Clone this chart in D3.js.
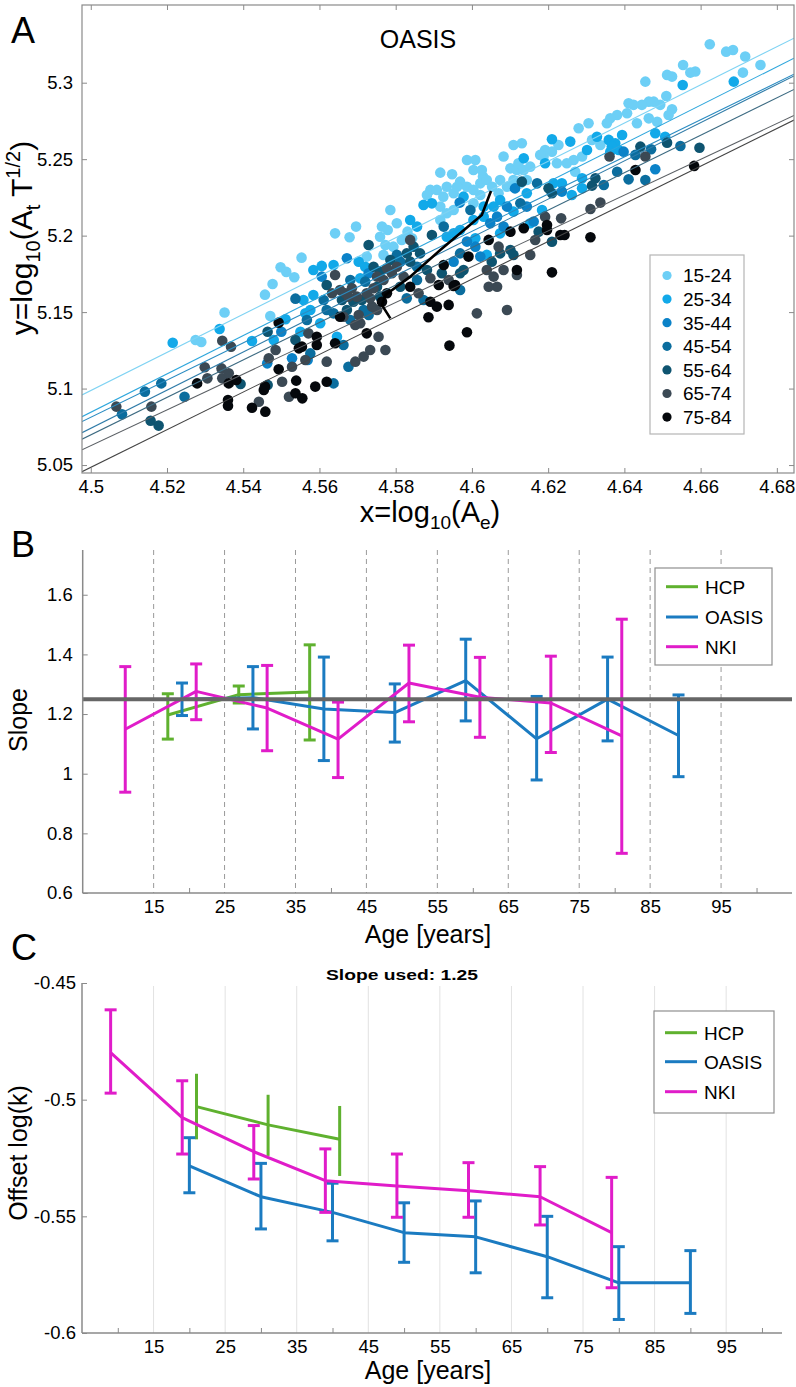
<!DOCTYPE html>
<html><head><meta charset="utf-8">
<script src="https://cdn.jsdelivr.net/npm/d3@7"></script>
<style>
body{margin:0;background:#fff}
svg text{font-family:"Liberation Sans",Arial,Helvetica,sans-serif;fill:#000}
</style>
</head><body>
<svg id="c" width="796" height="1387"></svg>
<script>
// ---------------- DATA ----------------
const ageGroups = ["15-24","25-34","35-44","45-54","55-64","65-74","75-84"];
const groupColors = ["#6dcff6","#12a9e9","#0b82c8","#0b6d9e","#0e5470","#3b4954","#05080c"];
const fitLineColors = ["#7fd3f3","#2ea6dc","#2a8cc2","#2f7ba8","#3d6b82","#5a5f64","#444444"];

const pts_15_24 = [[4.5275,5.1318],[4.5290,5.1305],[4.5351,5.1497],[4.5457,5.1614],[4.5477,5.1684],[4.5498,5.1793],[4.5513,5.1763],[4.5534,5.1728],[4.5553,5.1856],[4.5471,5.1475],
[4.5786,5.2168],[4.5641,5.2015],[4.5679,5.1989],[4.5696,5.2059],[4.5764,5.2059],[4.5759,5.1993],[4.5779,5.2037],[4.5803,5.2081],[4.5816,5.1972],[4.5794,5.1928],[4.5773,5.1939],[4.5768,5.1874],[4.5831,5.2026],[4.5843,5.1983],[4.5724,5.1863],[4.5917,5.2412],[4.5948,5.2401],[4.5987,5.2495],[4.6009,5.2495],[4.6004,5.2429],[4.6029,5.2386],[4.5969,5.2353],[4.5987,5.2320],[4.6022,5.2342],[4.6039,5.2364],[4.5891,5.2299],[4.5908,5.2299],[4.5934,5.2320],[4.5952,5.2277],[4.5917,5.2190],[4.5934,5.2146],[4.5952,5.2168],[4.6004,5.2211],[4.6022,5.2266],[4.6070,5.2277],[4.6083,5.2517],[4.6109,5.2593],[4.6131,5.2604],[4.6101,5.2440],[4.6118,5.2429],[4.6136,5.2429],[4.6109,5.2364],[4.6127,5.2342],[4.6144,5.2364],[4.6092,5.2320],[4.5917,5.2102],
[4.5882,5.2266],[4.5925,5.2255],[4.5961,5.2320],[4.6004,5.2299],[4.6026,5.2429],[4.6053,5.2320],[4.6074,5.2364],[4.6122,5.2473],[4.6153,5.2451],
[4.6624,5.3251],[4.6667,5.3203],[4.6685,5.3214],[4.6717,5.3171],[4.6757,5.3116],[4.6711,5.3066],[4.6554,5.3116],[4.6573,5.3066],[4.6586,5.3073],[4.6512,5.3051],[4.6525,5.3040],[4.6455,5.3007],[4.6510,5.2913],[4.6525,5.2826],[4.6516,5.2789],[4.6494,5.2855],[4.6477,5.2876],[4.6464,5.2876],[4.6446,5.2855],[4.6424,5.2855],[4.6411,5.2865],[4.6407,5.2800],[4.6381,5.2789],[4.6363,5.2767],[4.6354,5.2735],[4.6433,5.2735],[4.6464,5.2767],[4.6486,5.2745],[4.6306,5.2735],[4.6280,5.2702],[4.6315,5.2626],[4.6337,5.2593],[4.6289,5.2517],[4.6267,5.2495],[4.6227,5.2593],[4.6210,5.2549],[4.6192,5.2560],[4.6188,5.2517],[4.6179,5.2528],[4.6223,5.2473],[4.6249,5.2473],[4.6271,5.2418]];
const pts_25_34 = [[4.5215,5.1300],[4.5338,5.1390],[4.5423,5.1311],[4.5480,5.1318],[4.5511,5.1453],[4.5563,5.1492],[4.5550,5.1372],
[4.5606,5.1802],[4.5637,5.1808],[4.5703,5.1830],[4.5720,5.1797],[4.5838,5.2102],[4.5856,5.2059],[4.5895,5.2211],[4.5873,5.2201],[4.5978,5.2255],[4.6031,5.2190],[4.6057,5.2190],[4.6136,5.2506],[4.6144,5.2277],[4.6074,5.2233],[4.6109,5.2157],[4.6004,5.2102],[4.6031,5.2124],[4.6074,5.2015],[4.6153,5.2081],[4.5952,5.2015],[4.5934,5.1993],[4.5969,5.2037],[4.6009,5.1983],[4.6039,5.1874],[4.5584,5.1775],[4.5584,5.1612],[4.5558,5.1579],[4.5576,5.1514],[4.5707,5.1721],[4.5602,5.1427],[4.5646,5.1339],
[4.6687,5.3007],[4.6553,5.2985],[4.6328,5.2647],[4.6302,5.2560],[4.6258,5.2615],[4.6210,5.2630],[4.6192,5.2473],[4.6359,5.2626],[4.6376,5.2604],[4.6394,5.2658],[4.6385,5.2560],[4.6367,5.2582],[4.6363,5.2549],[4.6481,5.2669],[4.6507,5.2647],[4.6289,5.2310],[4.6289,5.2375],[4.6262,5.2266],[4.6236,5.2342],[4.6214,5.2342],[4.6184,5.2168]];
const pts_35_44 = [[4.5500,5.1372],[4.5528,5.1198],[4.5569,5.1187],[4.5463,5.1165],
[4.5968,5.2216],[4.6113,5.2309],[4.6092,5.2190],[4.6144,5.2190],[4.6048,5.2081],[4.5987,5.1961],[4.5606,5.1732],[4.5672,5.1852],[4.6022,5.1863],[4.6009,5.1928],[4.5952,5.1830],[4.6066,5.2124],[4.6083,5.2059],[4.5729,5.1754],
[4.6481,5.2434],[4.6398,5.2549],[4.6236,5.2288],[4.6162,5.2092]];
const pts_45_54 = [[4.5537,5.1588],[4.5082,5.0832],[4.5142,5.0980],[4.5185,5.1034],[4.5246,5.0947],
[4.6127,5.2211],[4.5996,5.2168],[4.5926,5.2059],[4.5969,5.1884],[4.5969,5.1645],[4.5803,5.1874],[4.5812,5.1830],[4.5856,5.1797],[4.5856,5.1710],[4.5829,5.1590],[4.5873,5.1579],[4.5611,5.1579],[4.5619,5.1514],[4.5716,5.1514],[4.5637,5.1492],[4.5681,5.1448],[4.5729,5.1481],[4.5720,5.1699],[4.5681,5.1710],[4.5567,5.1448],[4.5663,5.1285],[4.5576,5.1230],[4.5676,5.1143],[4.5637,5.1034],
[4.6547,5.2586],[4.6470,5.2565],[4.6429,5.2528],[4.6381,5.2418],[4.6411,5.2368],[4.6455,5.2364],[4.6346,5.2331],[4.6171,5.2342]];
const pts_55_64 = [[4.5464,5.1372],[4.5537,5.1318],[4.5393,5.1030],[4.5464,5.1024],[4.5157,5.0790],[4.5178,5.0758],
[4.5729,5.1939],[4.6131,5.2353],[4.5895,5.2004],[4.6101,5.1906],[4.6074,5.1884],[4.6052,5.1830],[4.5978,5.1775],[4.5969,5.1754],[4.5921,5.1754],[4.5882,5.1775],[4.5847,5.1928],[4.5829,5.1884],[4.5864,5.1884],[4.5786,5.1841],[4.5759,5.1765],[4.5838,5.1830],[4.5812,5.1666],[4.6109,5.1874],[4.5619,5.1677],[4.5711,5.1579],[4.5759,5.1601],[4.5689,5.1568],[4.5672,5.1514],[4.5742,5.1797],[4.5659,5.1579],[4.5751,5.1666],
[4.6512,5.2608],[4.6597,5.2575],[4.6442,5.2582],[4.6324,5.2375],[4.6315,5.2327],[4.6201,5.2310],[4.6210,5.2277],[4.6175,5.2026],[4.6210,5.1960]];
const pts_65_74 = [[4.5345,5.1313],[4.5368,5.1274],[4.5485,5.1252],[4.5467,5.1198],[4.5502,5.1045],[4.5528,5.1143],[4.5520,5.0947],[4.5299,5.1139],[4.5306,5.1067],[4.5343,5.1132],[4.5345,5.1067],[4.5362,5.1100],[4.5441,5.0914],[4.5067,5.0882],[4.5159,5.0882],
[4.6070,5.1928],[4.6118,5.1743],[4.6083,5.1775],[4.6057,5.1732],[4.6039,5.1775],[4.5891,5.1721],[4.5939,5.1710],[4.5838,5.1972],[4.5777,5.1786],[4.5751,5.1732],[4.5768,5.1710],[4.5790,5.1754],[4.5803,5.1797],[4.5821,5.1732],[4.5860,5.1623],[4.6013,5.1492],[4.6092,5.1514],[4.6066,5.1666],[4.6044,5.1666],[4.6153,5.1874],[4.5641,5.1743],[4.5654,5.1645],[4.5668,5.1623],[4.5685,5.1656],[4.5698,5.1601],[4.5724,5.1623],[4.5742,5.1656],[4.5738,5.1536],[4.5751,5.1514],[4.5707,5.1427],[4.5694,5.1416],[4.5663,5.1470],[4.5571,5.1361],[4.5619,5.1176],[4.5563,5.1187],[4.5755,5.1339],[4.5773,5.1252],[4.5733,5.1252],[4.5716,5.1209],[4.5694,5.1176],[4.5676,5.1601],[4.5733,5.1590],[4.5703,5.1481],[4.5633,5.1623],
[4.6455,5.2517],[4.6361,5.2517],[4.6337,5.2216],[4.6311,5.2174],[4.6234,5.2113],[4.6192,5.2124],[4.6166,5.1971]];
const pts_75_84 = [[4.5493,5.1431],[4.5493,5.1126],[4.5539,5.1052],[4.5546,5.1263],[4.5537,5.0969],[4.5555,5.0936],[4.5279,5.1034],[4.5362,5.1034],[4.5382,5.1056],[4.5360,5.0925],[4.5360,5.0888],[4.5423,5.0875],[4.5458,5.0849],[4.5454,5.0991],[4.5457,5.1013],
[4.6101,5.2026],[4.6136,5.2048],[4.6044,5.1972],[4.6118,5.1775],[4.5991,5.1863],[4.5926,5.1808],[4.5913,5.1677],[4.5956,5.1677],[4.5838,5.1666],[4.5891,5.1568],[4.5908,5.1536],[4.5886,5.1466],[4.5939,5.1547],[4.5952,5.1671],[4.5987,5.1368],[4.5941,5.1281],[4.5777,5.1623],[4.5764,5.1568],[4.5654,5.1470],[4.5554,5.1274],[4.5593,5.1339],[4.5593,5.1285],[4.5641,5.1296],[4.5724,5.1361],[4.5589,5.1013],[4.5619,5.1045],
[4.6429,5.2429],[4.6583,5.2456],[4.6197,5.2070],[4.6197,5.2037],[4.6232,5.2004],[4.6243,5.2004],[4.6311,5.1989],[4.6210,5.1760]];
const scatterGroups = [pts_15_24,pts_25_34,pts_35_44,pts_45_54,pts_55_64,pts_65_74,pts_75_84];

// fitted lines: y at x=4.5 and at x=4.68
const fitX = [4.5, 4.68];
const fitYat450 = [5.0987,5.0845,5.0812,5.0740,5.0697,5.0627,5.0485];
const fitYat468 = [5.3235,5.3104,5.3001,5.2988,5.2901,5.2733,5.2700];
// group centroid trajectory
const trajX = [4.6050,4.6026,4.5917,4.5838,4.5773,4.5764,4.5786];
const trajY = [5.2292,5.2135,5.1906,5.1732,5.1612,5.1546,5.1459];

const xTicksA = [4.5,4.52,4.54,4.56,4.58,4.6,4.62,4.64,4.66,4.68];
const yTicksA = [5.05,5.1,5.15,5.2,5.25,5.3];

// Panel B (slope)
const seriesNames = ["HCP","OASIS","NKI"];
const seriesColors = ["#5fb12f","#1b7bc1","#e01cc9"];
const slopeUsed = 1.25;
const bAgeHCP = [17,27,37];
const bSlopeHCP = [1.197,1.265,1.274];
const bLowHCP = [1.116,1.237,1.113];
const bHighHCP = [1.268,1.294,1.432];
const bAgeOASIS = [19,29,39,49,59,69,79,89];
const bSlopeOASIS = [1.25,1.255,1.217,1.205,1.312,1.117,1.25,1.128];
const bLowOASIS = [1.195,1.15,1.044,1.106,1.177,0.979,1.11,0.99];
const bHighOASIS = [1.304,1.359,1.391,1.301,1.451,1.259,1.391,1.264];
const bAgeNKI = [11,21,31,41,51,61,71,81];
const bSlopeNKI = [1.149,1.276,1.22,1.116,1.304,1.256,1.237,1.127];
const bLowNKI = [0.938,1.181,1.077,0.987,1.174,1.122,1.071,0.733];
const bHighNKI = [1.359,1.368,1.363,1.24,1.431,1.39,1.394,1.518];

// Panel C (offset)
const cAgeHCP = [21,31,41];
const cOffHCP = [-0.503,-0.5108,-0.517];
const cLowHCP = [-0.517,-0.5241,-0.5327];
const cHighHCP = [-0.4889,-0.4979,-0.5027];
const cAgeOASIS = [20,30,40,50,60,70,80,90];
const cOffOASIS = [-0.5284,-0.5416,-0.5483,-0.557,-0.5588,-0.5673,-0.5785,-0.5785];
const cLowOASIS = [-0.5399,-0.5554,-0.5605,-0.5697,-0.5742,-0.5849,-0.5942,-0.5916];
const cHighOASIS = [-0.5163,-0.5273,-0.5358,-0.5442,-0.5434,-0.55,-0.563,-0.5647];
const cAgeNKI = [9,19,29,39,49,59,69,79];
const cOffNKI = [-0.4798,-0.5077,-0.5223,-0.5347,-0.537,-0.539,-0.5416,-0.557];
const cLowNKI = [-0.4972,-0.5233,-0.534,-0.5483,-0.5504,-0.5504,-0.5537,-0.5806];
const cHighNKI = [-0.4615,-0.4919,-0.5111,-0.5211,-0.5233,-0.527,-0.5287,-0.5333];

const ageLabelTicks = [15,25,35,45,55,65,75,85,95];
const bMinorTicks = [20,40,60,80,100];
const cMinorTicks = [10,20,30,40,50,60,70,80,90,100];
const bYTicks = [0.6,0.8,1,1.2,1.4,1.6];
const cYTicks = [-0.6,-0.55,-0.5,-0.45];

// ---------------- DRAW ----------------
const svg = d3.select("#c");
const fmt = d => String(+d.toFixed(2)).replace("\u2212","-");
const axisGray = "#8a8a8a";

function styleAxis(g, fs){
  g.select(".domain").remove();
  g.selectAll(".tick line").attr("stroke", axisGray);
  g.selectAll(".tick text").attr("font-size", fs).attr("fill","#000");
}

// ===== Panel A =====
const xA = d3.scaleLinear().domain([4.4977,4.6845]).range([82,794]);
const yA = d3.scaleLinear().domain([5.0448,5.3508]).range([473,5]);
svg.append("defs").append("clipPath").attr("id","clipA")
  .append("rect").attr("x",82).attr("y",5).attr("width",712).attr("height",468);

const gA = svg.append("g");
const plotA = gA.append("g").attr("clip-path","url(#clipA)");
scatterGroups.forEach((pts,i)=>{
  plotA.append("g").selectAll("circle").data(pts).join("circle")
    .attr("cx",d=>xA(d[0])).attr("cy",d=>yA(d[1])).attr("r",5.3)
    .attr("fill",groupColors[i]);
});
ageGroups.forEach((g,i)=>{
  const s = (fitYat468[i]-fitYat450[i])/(fitX[1]-fitX[0]);
  const x0 = xA.domain()[0], x1 = xA.domain()[1];
  plotA.append("line")
    .attr("x1",xA(x0)).attr("y1",yA(fitYat450[i]+s*(x0-fitX[0])))
    .attr("x2",xA(x1)).attr("y2",yA(fitYat450[i]+s*(x1-fitX[0])))
    .attr("stroke",fitLineColors[i]).attr("stroke-width",1.1);
});
plotA.append("path").datum(trajX.map((x,i)=>[x,trajY[i]]))
  .attr("d",d3.line().x(d=>xA(d[0])).y(d=>yA(d[1])))
  .attr("fill","none").attr("stroke","#000").attr("stroke-width",2.6);

gA.append("rect").attr("x",82).attr("y",5).attr("width",712).attr("height",468)
  .attr("fill","none").attr("stroke",axisGray).attr("stroke-width",1.2);
const axBA = gA.append("g").attr("transform","translate(0,473)")
  .call(d3.axisBottom(xA).tickValues(xTicksA).tickSize(-5).tickPadding(7).tickFormat(fmt));
styleAxis(axBA,18.5);
const axTA = gA.append("g").attr("transform","translate(0,5)")
  .call(d3.axisTop(xA).tickValues(xTicksA).tickSize(-5).tickFormat(""));
styleAxis(axTA,0);
const axLA = gA.append("g").attr("transform","translate(82,0)")
  .call(d3.axisLeft(yA).tickValues(yTicksA).tickSize(-5).tickPadding(9).tickFormat(fmt));
styleAxis(axLA,18.5);
const axRA = gA.append("g").attr("transform","translate(794,0)")
  .call(d3.axisRight(yA).tickValues(yTicksA).tickSize(-5).tickFormat(""));
styleAxis(axRA,0);

gA.append("text").attr("x",418).attr("y",48).attr("text-anchor","middle").attr("font-size",25).text("OASIS");
svg.append("text").attr("x",11).attr("y",43).attr("font-size",36).text("A");

const xlabA = gA.append("text").attr("x",430).attr("y",522).attr("text-anchor","middle").attr("font-size",29);
xlabA.append("tspan").text("x=log");
xlabA.append("tspan").attr("font-size",19).attr("dy",7).text("10");
xlabA.append("tspan").attr("dy",-7).text("(A");
xlabA.append("tspan").attr("font-size",19).attr("dy",7).text("e");
xlabA.append("tspan").attr("dy",-7).text(")");
const ylabA = gA.append("text").attr("transform","translate(32,238) rotate(-90)").attr("text-anchor","middle").attr("font-size",30);
ylabA.append("tspan").text("y=log");
ylabA.append("tspan").attr("font-size",20).attr("dy",8).text("10");
ylabA.append("tspan").attr("dy",-8).text("(A");
ylabA.append("tspan").attr("font-size",20).attr("dy",8).text("t");
ylabA.append("tspan").attr("dy",-8).text(" T");
ylabA.append("tspan").attr("font-size",20).attr("dy",-12).text("1/2");
ylabA.append("tspan").attr("dy",12).text(")");

const legA = gA.append("g");
legA.append("rect").attr("x",650).attr("y",255).attr("width",94).attr("height",179)
  .attr("fill","#fff").attr("stroke","#b5b5b5").attr("stroke-width",1.2);
ageGroups.forEach((g,i)=>{
  const yy = 275.5 + i*23.6;
  legA.append("circle").attr("cx",667).attr("cy",yy).attr("r",4.6).attr("fill",groupColors[i]);
  legA.append("text").attr("x",683).attr("y",yy).attr("dy","0.36em").attr("font-size",19).text(g);
});

function drawSeries(g, x, y, ages, vals, lows, highs, color, cap){
  g.append("path").datum(ages.map((a,i)=>[a,vals[i]]))
    .attr("d",d3.line().x(d=>x(d[0])).y(d=>y(d[1])))
    .attr("fill","none").attr("stroke",color).attr("stroke-width",3).attr("stroke-linejoin","round");
  const eb = g.append("g");
  eb.selectAll("line.v").data(ages).join("line").attr("class","v")
    .attr("x1",d=>x(d)).attr("x2",d=>x(d))
    .attr("y1",(d,i)=>y(lows[i])).attr("y2",(d,i)=>y(highs[i]))
    .attr("stroke",color).attr("stroke-width",3);
  if(cap){
    [lows,highs].forEach(arr=>{
      eb.append("g").selectAll("line").data(ages).join("line")
        .attr("x1",d=>x(d)-6).attr("x2",d=>x(d)+6)
        .attr("y1",(d,i)=>y(arr[i])).attr("y2",(d,i)=>y(arr[i]))
        .attr("stroke",color).attr("stroke-width",3);
    });
  }
}
function drawLegend(g, x0, y0, w, h, ys){
  g.append("rect").attr("x",x0).attr("y",y0).attr("width",w).attr("height",h)
    .attr("fill","#fff").attr("stroke","#8f8f8f").attr("stroke-width",1.2);
  seriesNames.forEach((n,i)=>{
    g.append("line").attr("x1",x0+11).attr("x2",x0+43).attr("y1",ys[i]).attr("y2",ys[i])
      .attr("stroke",seriesColors[i]).attr("stroke-width",3);
    g.append("text").attr("x",x0+50).attr("y",ys[i]).attr("dy","0.36em").attr("font-size",19).text(n);
  });
}

// ===== Panel B =====
const xB = d3.scaleLinear().domain([5,105]).range([82.7,792]);
const yB = d3.scaleLinear().domain([0.6,1.75]).range([893,550]);
const gB = svg.append("g");
gB.append("g").selectAll("line").data(ageLabelTicks).join("line")
  .attr("x1",d=>xB(d)).attr("x2",d=>xB(d)).attr("y1",550).attr("y2",893)
  .attr("stroke","#9a9a9a").attr("stroke-width",1).attr("stroke-dasharray","5,4");
drawSeries(gB,xB,yB,bAgeHCP,bSlopeHCP,bLowHCP,bHighHCP,seriesColors[0],true);
drawSeries(gB,xB,yB,bAgeOASIS,bSlopeOASIS,bLowOASIS,bHighOASIS,seriesColors[1],true);
drawSeries(gB,xB,yB,bAgeNKI,bSlopeNKI,bLowNKI,bHighNKI,seriesColors[2],true);
gB.append("line").attr("x1",82.7).attr("x2",792).attr("y1",yB(slopeUsed)).attr("y2",yB(slopeUsed))
  .attr("stroke","#666").attr("stroke-width",4);
gB.append("line").attr("x1",82.7).attr("x2",82.7).attr("y1",550).attr("y2",893).attr("stroke",axisGray).attr("stroke-width",1.5);
gB.append("line").attr("x1",82.7).attr("x2",792).attr("y1",893).attr("y2",893).attr("stroke",axisGray).attr("stroke-width",1.5);
const axLB = gB.append("g").attr("transform","translate(82.7,0)")
  .call(d3.axisLeft(yB).tickValues(bYTicks).tickSize(-5).tickPadding(10).tickFormat(fmt));
styleAxis(axLB,18.5);
const axBB = gB.append("g").attr("transform","translate(0,893)")
  .call(d3.axisBottom(xB).tickValues(ageLabelTicks).tickSize(0).tickPadding(7).tickFormat(d=>d));
styleAxis(axBB,18.5);
const axBB2 = gB.append("g").attr("transform","translate(0,893)")
  .call(d3.axisBottom(xB).tickValues(bMinorTicks).tickSize(-5).tickFormat(""));
styleAxis(axBB2,0);
drawLegend(gB,655,568,117,97,[586.7,617,646.7]);
gB.append("text").attr("transform","translate(27,720) rotate(-90)").attr("text-anchor","middle").attr("font-size",25).text("Slope");
gB.append("text").attr("x",428).attr("y",943).attr("text-anchor","middle").attr("font-size",25).text("Age [years]");
svg.append("text").attr("x",11).attr("y",557).attr("font-size",36).text("B");

// ===== Panel C =====
const xC = d3.scaleLinear().domain([5,102.8]).range([82,782]);
const yC = d3.scaleLinear().domain([-0.6,-0.45]).range([1333,983]);
const gC = svg.append("g");
gC.append("g").selectAll("line").data(ageLabelTicks).join("line")
  .attr("x1",d=>xC(d)).attr("x2",d=>xC(d)).attr("y1",986).attr("y2",1333)
  .attr("stroke","#e2e2e2").attr("stroke-width",1);
drawSeries(gC,xC,yC,cAgeHCP,cOffHCP,cLowHCP,cHighHCP,seriesColors[0],false);
drawSeries(gC,xC,yC,cAgeOASIS,cOffOASIS,cLowOASIS,cHighOASIS,seriesColors[1],true);
drawSeries(gC,xC,yC,cAgeNKI,cOffNKI,cLowNKI,cHighNKI,seriesColors[2],true);
gC.append("line").attr("x1",82).attr("x2",82).attr("y1",983).attr("y2",1333).attr("stroke",axisGray).attr("stroke-width",1.5);
gC.append("line").attr("x1",82).attr("x2",782).attr("y1",1333).attr("y2",1333).attr("stroke",axisGray).attr("stroke-width",1.5);
const axLC = gC.append("g").attr("transform","translate(82,0)")
  .call(d3.axisLeft(yC).tickValues(cYTicks).tickSize(-5).tickPadding(6).tickFormat(fmt));
styleAxis(axLC,18.5);
const axBC = gC.append("g").attr("transform","translate(0,1333)")
  .call(d3.axisBottom(xC).tickValues(ageLabelTicks).tickSize(0).tickPadding(7).tickFormat(d=>d));
styleAxis(axBC,18.5);
const axBC2 = gC.append("g").attr("transform","translate(0,1333)")
  .call(d3.axisBottom(xC).tickValues(cMinorTicks).tickSize(-5).tickFormat(""));
styleAxis(axBC2,0);
drawLegend(gC,654,1011,120,102,[1032.7,1061.7,1091.7]);
gC.append("text").attr("transform","translate(27,1153) rotate(-90)").attr("text-anchor","middle").attr("font-size",25).text("Offset log(k)");
gC.append("text").attr("x",428).attr("y",1379).attr("text-anchor","middle").attr("font-size",25).text("Age [years]");
gC.append("text").attr("x",402).attr("y",980).attr("text-anchor","middle").attr("font-size",15)
  .attr("font-weight","bold").attr("fill","#222").attr("textLength",152).attr("lengthAdjust","spacingAndGlyphs")
  .text("Slope used: " + slopeUsed);
svg.append("text").attr("x",11).attr("y",960).attr("font-size",36).text("C");
</script>
</body></html>
